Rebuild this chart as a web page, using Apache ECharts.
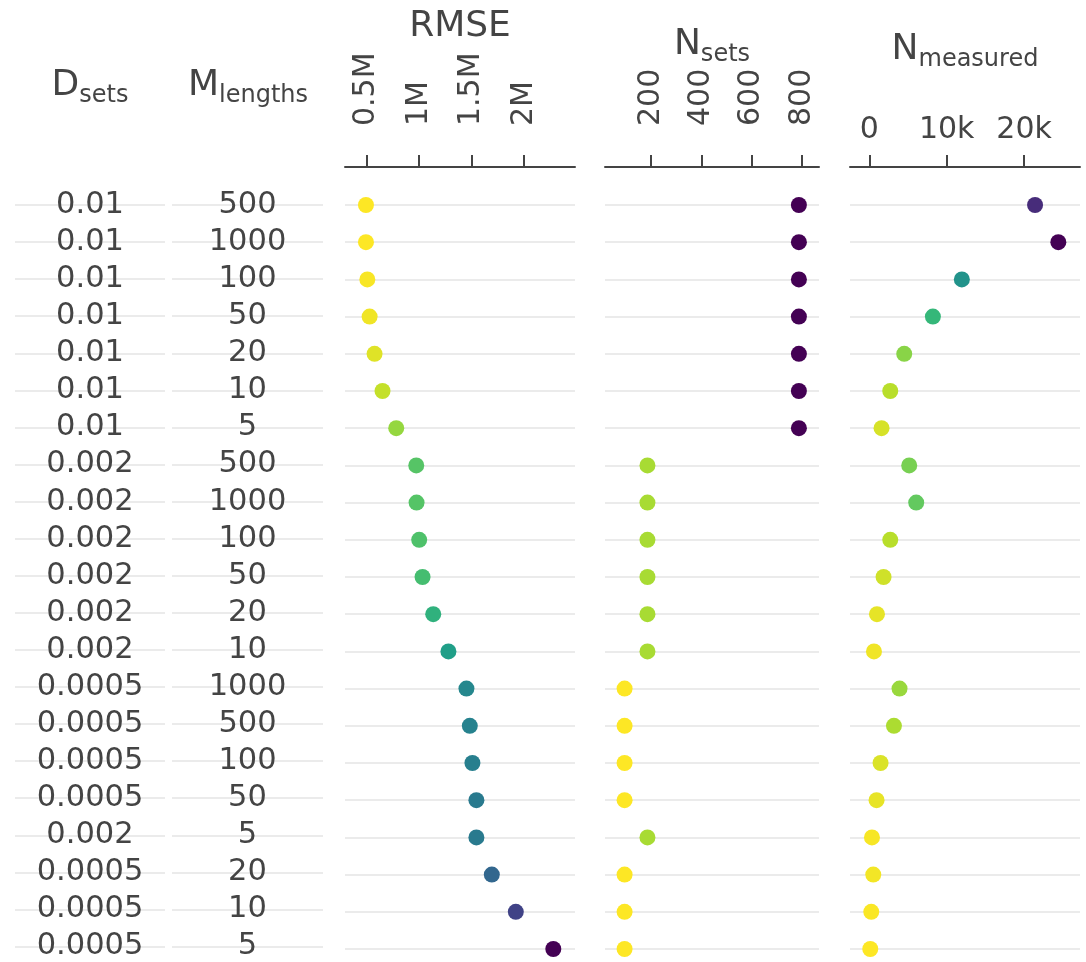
<!DOCTYPE html>
<html>
<head>
<meta charset="utf-8">
<script src="https://cdn.jsdelivr.net/npm/echarts@6/dist/echarts.min.js"></script>
<style>html,body{margin:0;padding:0;background:#fff}#c{width:1086px;height:962px}</style>
</head>
<body>
<div id="c"></div>
<script>
const dSets = ['0.01','0.01','0.01','0.01','0.01','0.01','0.01','0.002','0.002','0.002','0.002','0.002','0.002','0.0005','0.0005','0.0005','0.0005','0.002','0.0005','0.0005','0.0005'];
const mLengths = ['500','1000','100','50','20','10','5','500','1000','100','50','20','10','1000','500','100','50','5','20','10','5'];
const rmse = [494000, 494000, 507000, 529000, 576000, 652000, 783000, 974000, 977000, 1002000, 1034000, 1136000, 1281000, 1453000, 1485000, 1510000, 1548000, 1548000, 1695000, 1924000, 2282000];
const nSets = [788, 788, 788, 788, 788, 788, 788, 185, 185, 185, 185, 185, 185, 94, 94, 94, 94, 185, 94, 94, 94];
const nMeasured = [21419, 24426, 11961, 8219, 4516, 2710, 1587, 5161, 6065, 2710, 1845, 994, 606, 3910, 3187, 1458, 942, 348, 516, 258, 129];
const rmseTicks = [500000, 1000000, 1500000, 2000000];
const nSetsTicks = [200, 400, 600, 800];
const nMeasTicks = [0, 10000, 20000];

const FONT = 'Verdana, "DejaVu Sans", sans-serif';
const TXT = '#444';
const viridisR = ['#fde725','#b5de2b','#6ece58','#35b779','#1f9e89','#26828e','#31688e','#3e4989','#482878','#440154'];
const rowIds = dSets.map((d, i) => String(i));

const gridTop = 205, gridHeight = 744;
const cols = [
  {left: 15, width: 150},
  {left: 172, width: 151},
  {left: 345, width: 230},
  {left: 605, width: 214},
  {left: 850, width: 230}
];
const grids = cols.map(c => ({left: c.left, width: c.width, top: gridTop, height: gridHeight, containLabel: false}));

function catAxis(i, data, showLabel) {
  return {
    type: 'category', gridIndex: i, data: data, inverse: true, boundaryGap: false,
    axisLine: {show: false}, axisTick: {show: false},
    axisLabel: showLabel ? {show: true, interval: 0, color: TXT, fontFamily: FONT, fontSize: 30.5, align: 'center', margin: -cols[i].width / 2} : {show: false},
    splitLine: {show: true, interval: 0, lineStyle: {color: '#ebebeb', width: 2}}
  };
}
function valAxis(i, min, max, ticks, fmt, rotate, margin) {
  return {
    type: 'value', gridIndex: i, position: 'top', offset: 38, min: min, max: max,
    axisLine: {show: true, lineStyle: {color: TXT, width: 2}},
    axisTick: {show: true, length: 12, lineStyle: {color: TXT, width: 2}, customValues: ticks},
    axisLabel: {show: true, customValues: ticks, formatter: fmt, rotate: rotate, margin: margin, color: TXT, fontFamily: FONT, fontSize: 30},
    splitLine: {show: false}
  };
}
const hiddenX = i => ({type: 'value', gridIndex: i, min: 0, max: 1, show: false});

function pts(vals) { return vals.map((v, i) => [v, i]); }
function scatter(i, vals) {
  return {type: 'scatter', xAxisIndex: i, yAxisIndex: i, data: pts(vals), symbolSize: 16, itemStyle: {opacity: 1}, emphasis: {disabled: true}, z: 5};
}

function sub(main, s, x, y) {
  return {
    text: '{a|' + main + '}' + (s ? '{b|' + s + '}' : ''), left: x, top: y, textAlign: 'center',
    textStyle: {fontWeight: 'normal', rich: {
      a: {fontFamily: FONT, fontSize: 36, fontWeight: 'normal', color: TXT, lineHeight: 40},
      b: {fontFamily: FONT, fontSize: 24, fontWeight: 'normal', color: TXT, lineHeight: 24, padding: [20, 0, 0, 0]}
    }}
  };
}

const option = {
  animation: false,
  backgroundColor: '#fff',
  title: [
    sub('D', 'sets', 85, 61),
    sub('M', 'lengths', 243, 61),
    sub('RMSE', '', 455, 2),
    sub('N', 'sets', 707, 20),
    sub('N', 'measured', 960, 25)
  ],
  grid: grids,
  xAxis: [
    hiddenX(0), hiddenX(1),
    valAxis(2, 294000, 2489000, rmseTicks, v => (v / 1e6) + 'M', -90, 41),
    valAxis(3, 16, 868, nSetsTicks, v => String(v), -90, 41),
    valAxis(4, -2490, 27226, nMeasTicks, v => v === 0 ? '0' : (v / 1000) + 'k', 0, 22)
  ],
  yAxis: [
    catAxis(0, dSets, true), catAxis(1, mLengths, true),
    catAxis(2, rowIds, false), catAxis(3, rowIds, false), catAxis(4, rowIds, false)
  ],
  visualMap: [
    {type: 'continuous', show: false, seriesIndex: 0, dimension: 0, min: Math.min(...rmse), max: Math.max(...rmse), inRange: {color: viridisR}},
    {type: 'continuous', show: false, seriesIndex: 1, dimension: 0, min: Math.min(...nSets), max: Math.max(...nSets), inRange: {color: viridisR}},
    {type: 'continuous', show: false, seriesIndex: 2, dimension: 0, min: Math.min(...nMeasured), max: Math.max(...nMeasured), inRange: {color: viridisR}}
  ],
  series: [scatter(2, rmse), scatter(3, nSets), scatter(4, nMeasured)]
};
const chart = echarts.init(document.getElementById('c'), null, {renderer: 'canvas'});
chart.setOption(option);
</script>
</body>
</html>
